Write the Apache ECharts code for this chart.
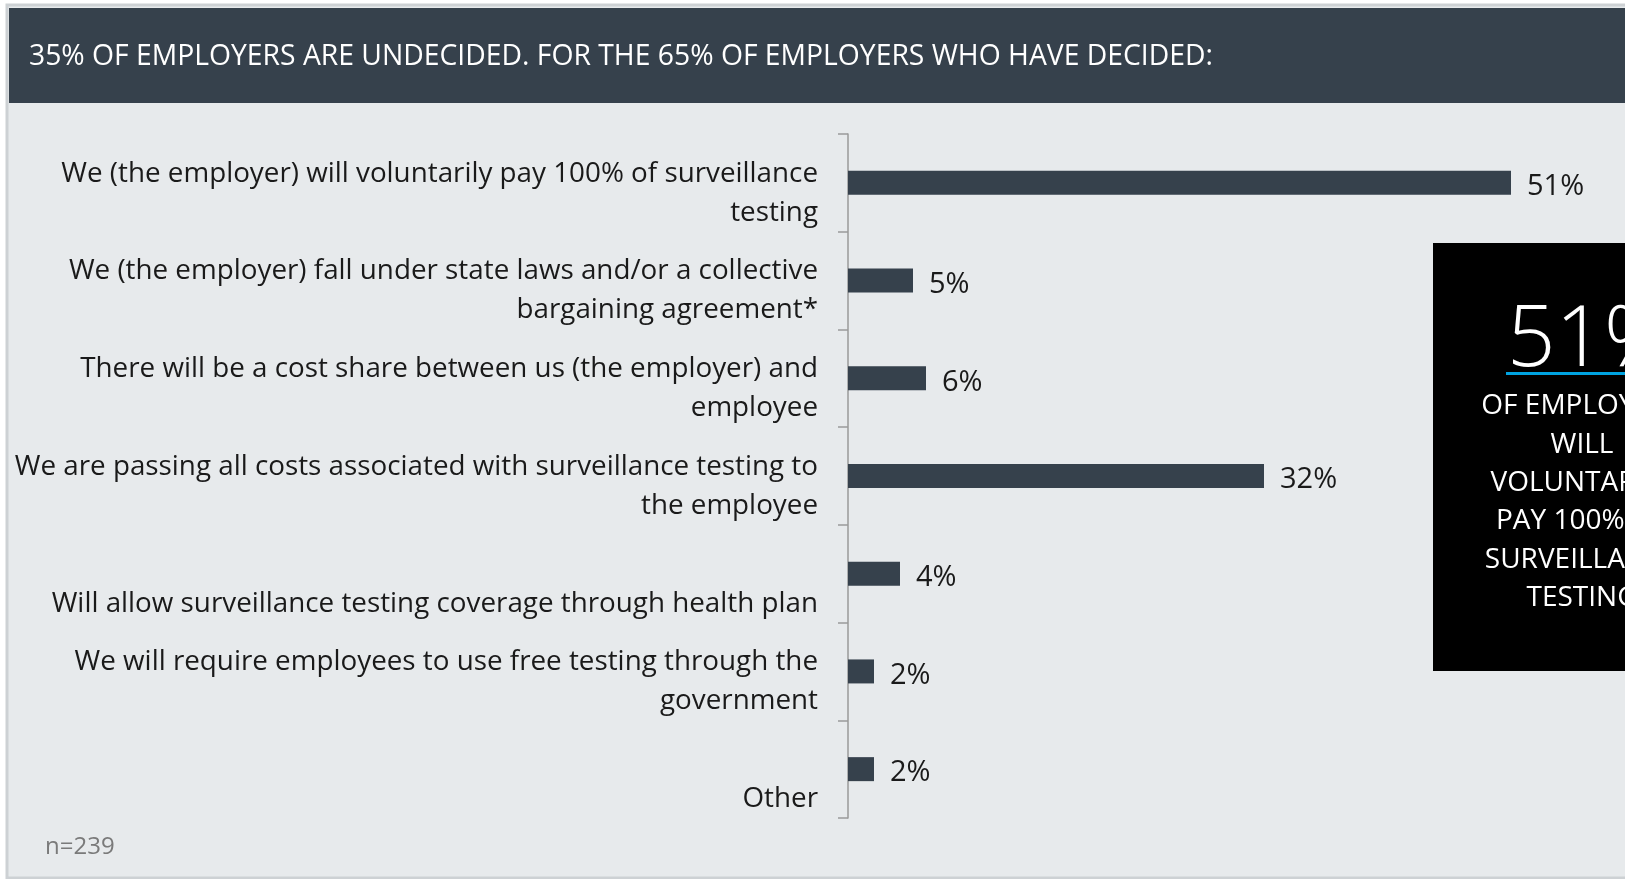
<!DOCTYPE html>
<html>
<head>
<meta charset="utf-8">
<title>Surveillance testing costs</title>
<script src="https://cdn.jsdelivr.net/npm/echarts@6/dist/echarts.min.js"></script>
<style>
  html, body { margin: 0; padding: 0; background: #ffffff; }
  #chart { width: 1625px; height: 879px; }
</style>
</head>
<body>
<div id="chart"></div>
<script>
  // categories, top to bottom
  const categories = [
    "We (the employer) will voluntarily pay 100% of surveillance\ntesting",
    "We (the employer) fall under state laws and/or a collective\nbargaining agreement*",
    "There will be a cost share between us (the employer) and\nemployee",
    "We are passing all costs associated with surveillance testing to\nthe employee",
    "Will allow surveillance testing coverage through health plan",
    "We will require employees to use free testing through the\ngovernment",
    "Other"
  ];
  // share of employers, %
  const values = [51, 5, 6, 32, 4, 2, 2];

  const titleText = "35% OF EMPLOYERS ARE UNDECIDED. FOR THE 65% OF EMPLOYERS WHO HAVE DECIDED:";
  const calloutLines = ["OF EMPLOYERS", "WILL", "VOLUNTARILY", "PAY 100% OF", "SURVEILLANCE", "TESTING"];
  const noteText = "n=239";

  const font = "'Open Sans', 'Noto Sans', sans-serif";
  const dark = "#36414c";

  // labels hang a bit low in the band; one-liners take the lower line
  function catLabel(v) {
    const lines = v.split("\n");
    if (lines.length < 2) lines.unshift(" ");
    return "{s| }\n" + lines.map((l) => "{a|" + l + "}").join("\n");
  }

  const chart = echarts.init(document.getElementById("chart"));
  const option = {
    backgroundColor: "#ffffff",
    animation: false,
    textStyle: { fontFamily: font },
    grid: { left: 848, right: 62, top: 134, bottom: 61, containLabel: false },
    xAxis: {
      type: "value",
      min: 0,
      max: 55,
      show: false
    },
    yAxis: {
      type: "category",
      inverse: true,
      data: categories,
      axisLine: { show: true, lineStyle: { color: "#9a9a9a", width: 1.5 } },
      axisTick: { show: true, alignWithLabel: false, length: 10, lineStyle: { color: "#9a9a9a", width: 1.5 } },
      axisLabel: {
        interval: 0,
        showMinLabel: true,
        showMaxLabel: true,
        hideOverlap: false,
        margin: 30,
        align: "right",
        formatter: catLabel,
        rich: {
          s: { fontSize: 10, lineHeight: 21 },
          a: { color: "#1a1a1a", fontSize: 27.8, lineHeight: 39, align: "right" }
        }
      },
      splitLine: { show: false }
    },
    series: [{
      type: "bar",
      data: values,
      barWidth: 24,
      itemStyle: { color: dark },
      label: {
        show: true,
        position: "right",
        distance: 16,
        offset: [0, 4],
        formatter: "{c}%",
        color: "#1a1a1a",
        fontSize: 29
      }
    }],
    graphic: [
      // panel border + background
      { type: "rect", z: -10, shape: { x: 7, y: 5, width: 1640, height: 873 },
        style: { fill: "#e7eaec", stroke: "#cdd1d4", lineWidth: 3 } },
      // header bar
      { type: "rect", z: -5, shape: { x: 9, y: 8, width: 1620, height: 95 },
        style: { fill: dark } },
      { type: "text", z: -4, x: 29, y: 57,
        style: { text: titleText, fill: "#ffffff", font: "28.3px " + font, textVerticalAlign: "middle" } },
      // black callout box
      { type: "rect", z: 5, shape: { x: 1433, y: 243, width: 320, height: 428 },
        style: { fill: "#000000" } },
      { type: "text", z: 6, x: 1507, y: 342,
        style: { text: values[0] + "%", fill: "#ffffff", font: "300 85px " + font,
                 textAlign: "left", textVerticalAlign: "middle" } },
      { type: "rect", z: 6, shape: { x: 1506, y: 372, width: 200, height: 3 },
        style: { fill: "#00a3e0" } },
      { type: "text", z: 6, x: 1582, y: 387,
        style: { text: calloutLines.join("\n"), fill: "#ffffff", font: "28px " + font,
                 lineHeight: 38.4, textAlign: "center", textVerticalAlign: "top" } },
      // sample size note
      { type: "text", x: 45, y: 847,
        style: { text: noteText, fill: "#7a7a7a", font: "24px " + font, textVerticalAlign: "middle" } }
    ]
  };
  chart.setOption(option);
</script>
</body>
</html>
